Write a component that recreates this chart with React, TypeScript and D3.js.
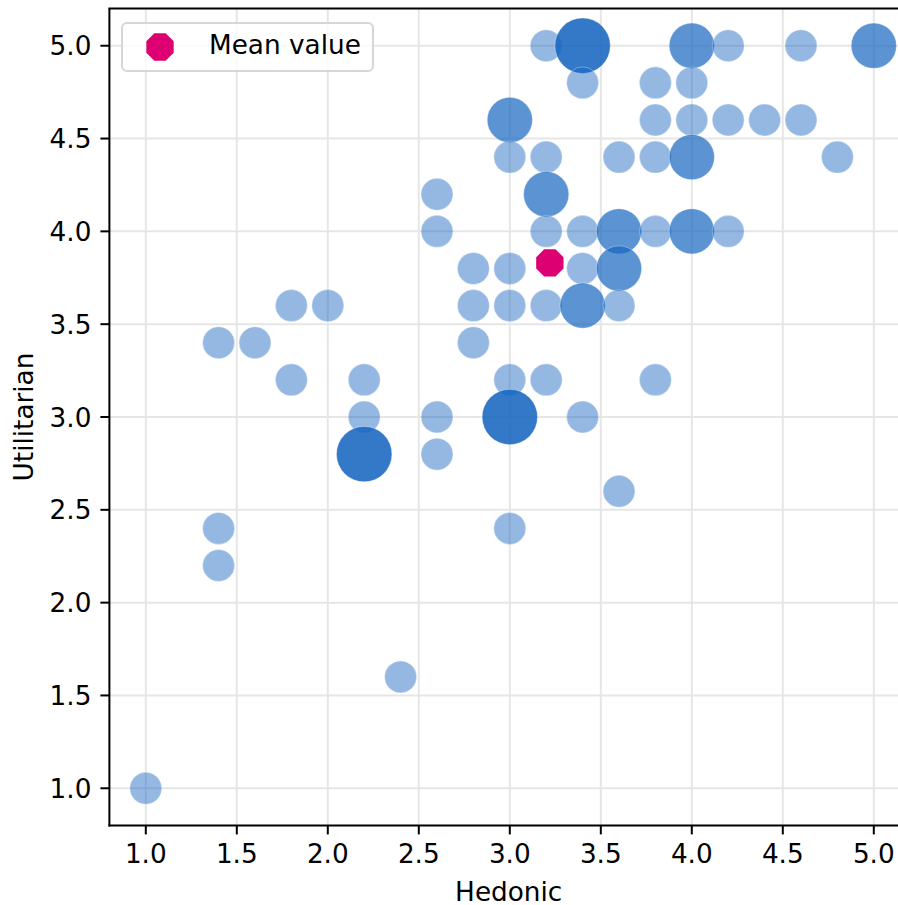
import React, { useMemo } from "react";
import * as d3 from "d3";

// Response pairs (Hedonic, Utilitarian) and how many respondents share each pair
const hedonic = [
  3.2, 3.4, 4.0, 4.2, 4.6, 5.0,
  3.4, 3.8, 4.0,
  3.0, 3.8, 4.0, 4.2, 4.4, 4.6,
  3.0, 3.2, 3.6, 3.8, 4.0, 4.8,
  2.6, 3.2,
  2.6, 3.2, 3.4, 3.6, 3.8, 4.0, 4.2,
  2.8, 3.0, 3.4, 3.6,
  1.8, 2.0, 2.8, 3.0, 3.2, 3.4, 3.6,
  1.4, 1.6, 2.8,
  1.8, 2.2, 3.0, 3.2, 3.8,
  2.2, 2.6, 3.0, 3.4,
  2.2, 2.6,
  3.6,
  1.4, 3.0,
  1.4,
  2.4,
  1.0,
];
const utilitarian = [
  5.0, 5.0, 5.0, 5.0, 5.0, 5.0,
  4.8, 4.8, 4.8,
  4.6, 4.6, 4.6, 4.6, 4.6, 4.6,
  4.4, 4.4, 4.4, 4.4, 4.4, 4.4,
  4.2, 4.2,
  4.0, 4.0, 4.0, 4.0, 4.0, 4.0, 4.0,
  3.8, 3.8, 3.8, 3.8,
  3.6, 3.6, 3.6, 3.6, 3.6, 3.6, 3.6,
  3.4, 3.4, 3.4,
  3.2, 3.2, 3.2, 3.2, 3.2,
  3.0, 3.0, 3.0, 3.0,
  2.8, 2.8,
  2.6,
  2.4, 2.4,
  2.2,
  1.6,
  1.0,
];
const counts = [
  1, 3, 2, 1, 1, 2,
  1, 1, 1,
  2, 1, 1, 1, 1, 1,
  1, 1, 1, 1, 2, 1,
  1, 2,
  1, 1, 1, 2, 1, 2, 1,
  1, 1, 1, 2,
  1, 1, 1, 1, 1, 2, 1,
  1, 1, 1,
  1, 1, 1, 1, 1,
  1, 1, 3, 1,
  3, 1,
  1,
  1, 1,
  1,
  1,
  1,
];

const meanHedonic = 3.22;
const meanUtilitarian = 3.83;

const xTicks = [1.0, 1.5, 2.0, 2.5, 3.0, 3.5, 4.0, 4.5, 5.0];
const yTicks = [1.0, 1.5, 2.0, 2.5, 3.0, 3.5, 4.0, 4.5, 5.0];
const xDomain = [0.8, 5.2];
const yDomain = [0.8, 5.2];

const W = 898;
const H = 905;
const plot = { left: 109.4, right: 910.2, top: 8.6, bottom: 825.4 };
const FONT = "'DejaVu Sans', sans-serif";
const FS = 26.3;
const TICK = 9;
const PAD = 9;
const BLUE = "#1565c0";
const MEAN_COLOR = "#dc0073";

function octagon(cx: number, cy: number, r: number): string {
  const pts: [number, number][] = d3.range(8).map((i) => {
    const a = Math.PI / 8 + (i * Math.PI) / 4;
    return [cx + r * Math.cos(a), cy + r * Math.sin(a)];
  });
  return d3.line()(pts.concat([pts[0]])) + "Z";
}

export default function App() {
  const x = useMemo(() => d3.scaleLinear().domain(xDomain).range([plot.left, plot.right]), []);
  const y = useMemo(() => d3.scaleLinear().domain(yDomain).range([plot.bottom, plot.top]), []);
  const radius = d3.scaleSqrt().domain([0, 1]).range([0, 16]);
  const opacity = d3.scaleOrdinal<number, number>().domain([1, 2, 3]).range([0.46, 0.7, 0.87]);

  const points = hedonic.map((h, i) => ({ h, u: utilitarian[i], n: counts[i] }));
  const gridColor = "#e6e6e6";

  return (
    <svg
      width={W}
      height={H}
      style={{ position: "absolute", left: 0, top: 0, background: "#fff" }}
      fontFamily={FONT}
    >
      <defs>
        <clipPath id="plot-area">
          <rect x={plot.left} y={plot.top} width={plot.right - plot.left} height={plot.bottom - plot.top} />
        </clipPath>
      </defs>
      <rect x={0} y={0} width={W} height={H} fill="#fff" />

      {/* grid */}
      <g stroke={gridColor} strokeWidth={2}>
        {xTicks.map((t) => (
          <line key={"gx" + t} x1={x(t)} x2={x(t)} y1={plot.top} y2={plot.bottom} />
        ))}
        {yTicks.map((t) => (
          <line key={"gy" + t} x1={plot.left} x2={plot.right} y1={y(t)} y2={y(t)} />
        ))}
      </g>

      {/* bubbles */}
      <g clipPath="url(#plot-area)">
        {points.map((p, i) => (
          <circle
            key={i}
            cx={x(p.h)}
            cy={y(p.u)}
            r={radius(p.n)}
            fill={BLUE}
            fillOpacity={opacity(p.n)}
            stroke="#ffffff"
            strokeOpacity={0.35}
            strokeWidth={1}
          />
        ))}
        <path d={octagon(x(meanHedonic), y(meanUtilitarian), 14.8)} fill={MEAN_COLOR} />
      </g>

      {/* spines */}
      <g stroke="#000" strokeWidth={2} fill="none">
        <line x1={plot.left} x2={plot.left} y1={plot.top} y2={plot.bottom + 1} />
        <line x1={plot.left - 1} x2={plot.right} y1={plot.bottom} y2={plot.bottom} />
        <line x1={plot.left - 1} x2={plot.right} y1={plot.top} y2={plot.top} />
        <line x1={plot.right} x2={plot.right} y1={plot.top} y2={plot.bottom} />
      </g>

      {/* x axis */}
      <g>
        {xTicks.map((t) => (
          <g key={"xt" + t}>
            <line x1={x(t)} x2={x(t)} y1={plot.bottom} y2={plot.bottom + TICK} stroke="#000" strokeWidth={2} />
            <text x={x(t)} y={plot.bottom + TICK + PAD + 0.75 * FS} textAnchor="middle" fontSize={FS} fill="#000">
              {t.toFixed(1)}
            </text>
          </g>
        ))}
        <text x={(plot.left + 898) / 2 + 5} y={900.5} textAnchor="middle" fontSize={FS} fill="#000">
          Hedonic
        </text>
      </g>

      {/* y axis */}
      <g>
        {yTicks.map((t) => (
          <g key={"yt" + t}>
            <line x1={plot.left - TICK} x2={plot.left} y1={y(t)} y2={y(t)} stroke="#000" strokeWidth={2} />
            <text x={plot.left - TICK - PAD} y={y(t) + 0.365 * FS} textAnchor="end" fontSize={FS} fill="#000">
              {t.toFixed(1)}
            </text>
          </g>
        ))}
        <text
          transform={`translate(33, ${(plot.top + plot.bottom) / 2}) rotate(-90)`}
          textAnchor="middle"
          fontSize={FS}
          fill="#000"
        >
          Utilitarian
        </text>
      </g>

      {/* legend */}
      <g>
        <rect x={122} y={23} width={251} height={48} rx={5} fill="#fff" fillOpacity={0.8} stroke="#d6d6d6" strokeWidth={2} />
        <path d={octagon(160, 47, 14.8)} fill={MEAN_COLOR} />
        <text x={209} y={53.5} fontSize={FS} fill="#000">
          Mean value
        </text>
      </g>
    </svg>
  );
}
